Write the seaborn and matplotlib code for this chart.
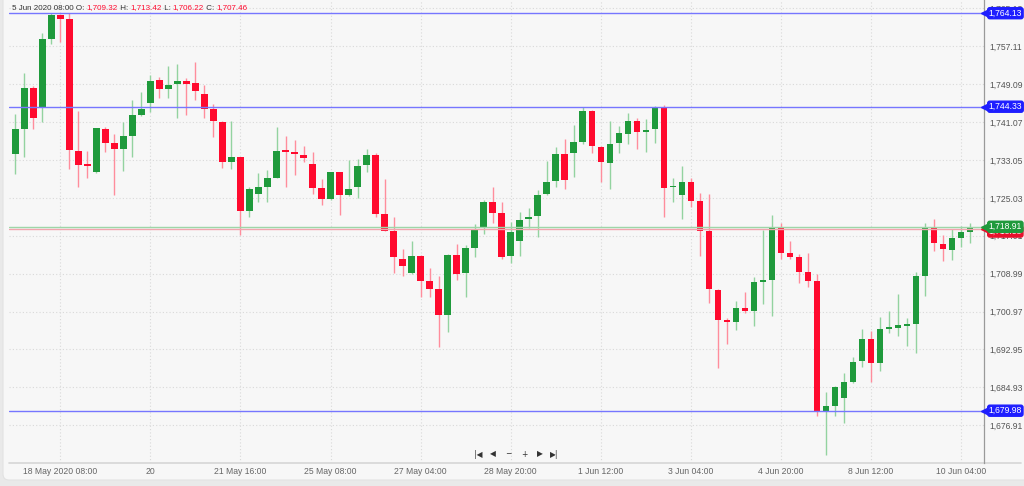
"""Gold 4h candlestick chart, 18 May - 10 Jun 2020."""

import numpy as np
import matplotlib
matplotlib.use("Agg")
import matplotlib.pyplot as plt
import matplotlib.transforms as mtransforms
from matplotlib import font_manager
from matplotlib.lines import Line2D
from matplotlib.patches import FancyBboxPatch
from matplotlib.text import Annotation
import seaborn as sns

# OHLC, one 4h candle per entry
opens = [1734.39, 1739.68, 1748.22, 1744.34, 1758.66, 1763.74, 1762.97, 1734.96, 1732.06, 1730.44,
         1739.61, 1736.72, 1735.31, 1738.13, 1742.58, 1745.19, 1749.92, 1748.01, 1749.07, 1749.77,
         1749.28, 1747.09, 1743.78, 1741.17, 1732.63, 1733.62, 1722.18, 1725.78, 1727.26, 1729.31,
         1735.17, 1734.67, 1734.11, 1732.20, 1727.12, 1724.72, 1730.51, 1725.64, 1727.26, 1731.92,
         1734.04, 1721.55, 1718.09, 1712.16, 1709.06, 1712.73, 1707.37, 1705.67, 1700.17, 1712.94,
         1709.06, 1714.42, 1718.65, 1724.09, 1721.76, 1712.73, 1715.91, 1720.56, 1721.20, 1725.78,
         1728.61, 1734.25, 1734.46, 1736.93, 1743.42, 1735.87, 1732.49, 1736.58, 1738.49, 1741.31,
         1738.91, 1739.54, 1744.34, 1727.27, 1725.64, 1728.47, 1724.30, 1718.02, 1705.60, 1699.04,
         1698.69, 1701.65, 1701.15, 1707.29, 1707.65, 1718.58, 1713.29, 1712.44, 1709.32, 1707.46,
         1679.99, 1681.04, 1682.60, 1686.12, 1690.43, 1695.09, 1690.15, 1697.34, 1697.41, 1697.91,
         1698.33, 1708.56, 1718.58, 1715.27, 1714.00, 1716.61, 1717.81]
highs = [1742.72, 1751.40, 1748.72, 1760.01, 1764.13, 1764.05, 1764.13, 1743.49, 1734.96, 1739.90,
         1740.11, 1738.55, 1741.02, 1745.75, 1747.52, 1751.04, 1750.69, 1752.95, 1753.30, 1750.48,
         1753.80, 1748.93, 1744.91, 1741.38, 1741.38, 1733.70, 1727.41, 1730.23, 1730.93, 1739.96,
         1738.13, 1737.28, 1736.01, 1734.67, 1728.96, 1730.58, 1730.58, 1733.05, 1733.19, 1735.31,
         1734.46, 1728.96, 1721.05, 1714.14, 1715.83, 1712.85, 1710.12, 1708.56, 1713.15, 1715.20,
         1715.06, 1719.43, 1724.58, 1727.40, 1724.16, 1720.00, 1722.12, 1722.82, 1726.70, 1732.91,
         1735.87, 1737.43, 1740.46, 1744.34, 1743.60, 1736.02, 1741.31, 1740.25, 1742.93, 1741.87,
         1741.73, 1744.48, 1744.60, 1729.17, 1731.85, 1729.17, 1726.00, 1725.86, 1705.75, 1699.54,
         1703.13, 1705.18, 1708.21, 1718.23, 1721.40, 1719.78, 1715.97, 1713.15, 1713.42, 1708.92,
         1684.01, 1685.28, 1688.03, 1691.42, 1697.27, 1696.85, 1699.74, 1701.08, 1704.61, 1699.53,
         1709.41, 1719.64, 1720.56, 1717.17, 1718.37, 1719.15, 1719.64]
lows = [1730.09, 1733.62, 1739.54, 1741.17, 1757.54, 1758.10, 1731.08, 1727.27, 1729.17, 1730.37,
        1734.82, 1725.64, 1730.72, 1733.76, 1742.30, 1743.28, 1746.25, 1746.25, 1742.01, 1742.58,
        1745.75, 1741.87, 1737.99, 1731.29, 1731.08, 1717.10, 1721.06, 1724.23, 1724.23, 1729.17,
        1727.40, 1729.87, 1732.56, 1725.85, 1723.52, 1724.65, 1721.41, 1725.50, 1725.08, 1730.44,
        1721.05, 1717.95, 1709.06, 1708.56, 1708.95, 1703.98, 1704.12, 1693.54, 1696.57, 1707.65,
        1703.98, 1712.59, 1717.38, 1719.78, 1712.10, 1711.18, 1712.80, 1718.59, 1716.82, 1725.64,
        1727.41, 1726.98, 1729.38, 1736.44, 1734.46, 1728.47, 1726.98, 1734.46, 1736.44, 1735.38,
        1734.68, 1736.72, 1721.06, 1724.09, 1720.49, 1723.03, 1712.80, 1702.71, 1689.09, 1694.03,
        1697.07, 1700.59, 1697.91, 1702.49, 1700.10, 1712.02, 1712.16, 1706.94, 1706.22, 1678.86,
        1670.60, 1678.93, 1677.45, 1685.91, 1689.30, 1686.12, 1688.45, 1696.50, 1695.86, 1693.75,
        1692.12, 1704.33, 1713.78, 1711.67, 1711.88, 1714.70, 1715.41]
closes = [1739.61, 1748.22, 1741.87, 1758.59, 1763.74, 1762.97, 1735.10, 1731.92, 1731.85, 1739.75,
          1736.58, 1735.31, 1738.13, 1742.58, 1743.85, 1749.84, 1748.01, 1749.00, 1749.77, 1749.21,
          1747.66, 1743.78, 1741.38, 1732.63, 1733.62, 1722.18, 1726.84, 1727.26, 1729.31, 1735.02,
          1734.67, 1734.25, 1733.47, 1727.19, 1724.79, 1730.51, 1725.64, 1726.98, 1731.78, 1734.04,
          1721.62, 1718.09, 1712.45, 1710.61, 1712.73, 1707.51, 1705.81, 1700.17, 1712.94, 1708.92,
          1714.42, 1718.37, 1724.09, 1721.90, 1712.59, 1717.81, 1720.42, 1721.06, 1725.71, 1728.47,
          1734.25, 1728.82, 1736.79, 1743.42, 1736.02, 1732.56, 1736.37, 1738.70, 1741.38, 1738.91,
          1739.40, 1744.33, 1727.20, 1727.48, 1728.47, 1724.44, 1718.02, 1705.68, 1699.11, 1698.83,
          1701.65, 1701.15, 1707.15, 1707.65, 1718.58, 1713.43, 1712.44, 1709.41, 1707.46, 1679.98,
          1680.97, 1685.00, 1686.05, 1690.36, 1695.09, 1690.15, 1697.34, 1697.77, 1698.05, 1698.33,
          1708.56, 1718.58, 1715.41, 1714.14, 1716.61, 1717.81, 1718.91]

date_idx = [5, 15, 25, 35, 45, 55, 65, 75, 85, 95, 105]
date_labels = ["18 May 2020 08:00", "20", "21 May 16:00", "25 May 08:00", "27 May 04:00",
               "28 May 20:00", "1 Jun 12:00", "3 Jun 04:00", "4 Jun 20:00", "8 Jun 12:00",
               "10 Jun 04:00"]
price_ticks = [1676.91, 1684.93, 1692.95, 1700.97, 1708.99, 1717.01, 1725.03, 1733.05,
               1741.07, 1749.09, 1757.11, 1765.13]
levels = [1764.13, 1744.33, 1679.98]
ask = 1718.91
bid = 1718.38
hover_idx = 88  # 5 Jun 2020 08:00

W, H = 1024, 486
GREEN, RED = "#1f9a3c", "#ff0a2e"
GREEN_WICK, RED_WICK = "#93d3a0", "#ff8d9c"
BLUE = "#1e1eff"
DARK = "#333333"

sns.set_theme(style="white")
names = {f.name for f in font_manager.fontManager.ttflist}
if "Liberation Sans Narrow" in names:
    FONT, FS, HFS = "Liberation Sans Narrow", 7.2, 7.0
else:
    FONT, FS, HFS = "Liberation Sans", 6.2, 5.8
plt.rcParams["font.family"] = [FONT, "DejaVu Sans"]

fig = plt.figure(figsize=(W / 100, H / 100), dpi=100, facecolor="#e9e9e9")
panel = FancyBboxPatch((3, 6), 1200, 600, boxstyle="round,pad=0,rounding_size=6",
                       transform=mtransforms.IdentityTransform(),
                       fc="#f7f7f7", ec="#e2e2e2", lw=0.8, zorder=-5)
fig.patches.append(panel)

ax = fig.add_axes([9 / W, (H - 463) / H, (984 - 9) / W, 463 / H])
ax.patch.set_alpha(0)
ax.set_zorder(2)

o, h, l, c = map(np.asarray, (opens, highs, lows, closes))
x = np.arange(len(o))
up = c >= o
body_cols = np.where(up, GREEN, RED)
wick_cols = np.where(up, GREEN_WICK, RED_WICK)
bottoms = np.minimum(o, c)
heights = np.maximum(np.abs(c - o), 0.3)

ax.vlines(x, l, h, colors=wick_cols, lw=1, zorder=2)
ax.bar(x, heights, bottom=bottoms, width=0.72, color=body_cols, linewidth=0, zorder=3)

ax.set_xlim(-0.7, 107.55)
ax.set_ylim(1668.91, 1766.92)

ax.set_xticks(date_idx)
ax.set_xticklabels(date_labels)
ax.set_yticks(price_ticks)
ax.set_yticklabels([f"{v:,.2f}" for v in price_ticks])
ax.yaxis.tick_right()
ax.tick_params(axis="y", length=0, pad=3.6, labelcolor="#555555", labelsize=FS)
ax.tick_params(axis="x", length=0, pad=3.0, labelcolor="#666666", labelsize=FS)
ax.grid(True, ls=(0, (1, 2)), color="#d9d9d9", lw=0.8, zorder=0)

for side in ("top", "left", "bottom"):
    ax.spines[side].set_visible(False)
ax.spines["right"].set_color("#9a9a9a")
ax.spines["right"].set_linewidth(0.9)
fig.add_artist(Line2D([9 / W, 1021 / W], [(H - 463) / H] * 2, color="#d6d6d6", lw=1.2))

edge = mtransforms.blended_transform_factory(ax.transAxes, ax.transData)


def price_tag(value, color, zorder, dy=0.0):
    ax.annotate(f"{value:,.2f}", xy=(1, value), xycoords=("axes fraction", "data"),
                xytext=(3.4, dy), textcoords="offset points", va="center", ha="left",
                color="white", fontsize=FS, annotation_clip=False, zorder=zorder,
                bbox=dict(boxstyle="round,pad=0.12,rounding_size=0.25", fc=color, ec=color))
    ax.plot([1.0], [value], marker="<", ms=5, color=color, transform=edge,
            clip_on=False, zorder=zorder)


for v in levels:
    ax.axhline(v, color="#7676ff", lw=1, zorder=4)
    price_tag(v, BLUE, 6)

ax.axhline(bid, color="#f3a4ae", lw=1, zorder=4)
ax.axhline(ask, color="#9ed6a8", lw=1, zorder=4)
price_tag(bid, "#e8102c", 5, dy=-1.6)
price_tag(ask, GREEN, 6)

# hovered candle readout, pieces chained left to right
pieces = [("5 Jun 2020 08:00 O: ", DARK), (f"{opens[hover_idx]:,.2f}", RED),
          (" H: ", DARK), (f"{highs[hover_idx]:,.2f}", RED),
          (" L: ", DARK), (f"{lows[hover_idx]:,.2f}", RED),
          (" C: ", DARK), (f"{closes[hover_idx]:,.2f}", RED)]
prev = fig.text(12 / W, 1 - 8 / H, pieces[0][0], color=pieces[0][1], fontsize=HFS,
                va="center", ha="left")
for s, col in pieces[1:]:
    prev = fig.add_artist(Annotation(s, xy=(1, 0), xycoords=prev, va="bottom", ha="left",
                                     color=col, fontsize=HFS, annotation_clip=False))

# navigation buttons
for px, glyph in zip([478, 493, 508, 524, 540, 554], ["|◀", "◀", "−", "+", "▶", "▶|"]):
    fig.text(px / W, 1 - 454 / H, glyph, fontsize=5.5, color=DARK, ha="center",
             va="center", family=["DejaVu Sans"])

fig.savefig("out.png", dpi=100, facecolor=fig.get_facecolor())
